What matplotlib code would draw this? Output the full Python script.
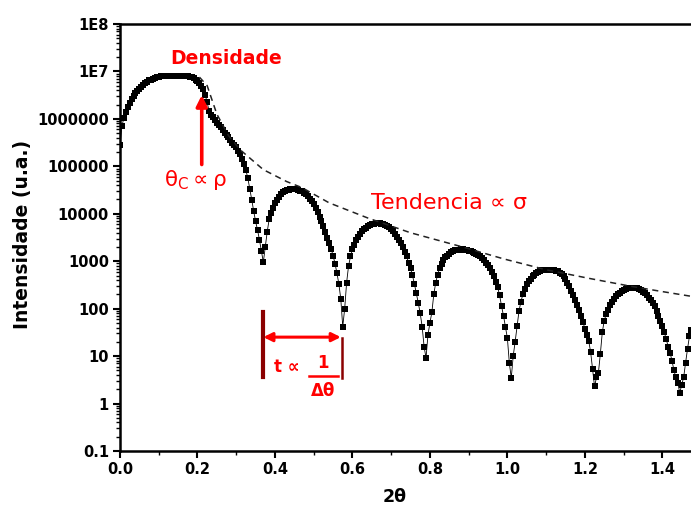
import numpy as np
import matplotlib.pyplot as plt
from matplotlib.ticker import FixedLocator, MultipleLocator, LogLocator, NullFormatter

plt.rcParams['font.family'] = ['DejaVu Sans']
plt.rcParams['mathtext.fontset'] = 'dejavusans'

two_theta = np.round(np.arange(0, 1.4751, 0.005), 3)
log_int = [
    5.45, 5.85, 6.02, 6.15, 6.25, 6.34, 6.42, 6.48, 6.54, 6.59, 6.64, 6.68, 6.72, 6.75, 6.78, 6.81, 6.83, 6.85, 6.87, 6.88,
    6.89, 6.90, 6.90, 6.905, 6.905, 6.905, 6.905, 6.905, 6.905, 6.905, 6.90, 6.90, 6.90, 6.90, 6.90, 6.90, 6.89, 6.88, 6.86, 6.83,
    6.80, 6.76, 6.70, 6.62, 6.50, 6.35, 6.16, 6.08, 6.03, 5.97, 5.92, 5.87, 5.82, 5.76, 5.71, 5.66, 5.61, 5.56, 5.50, 5.45,
    5.40, 5.33, 5.25, 5.16, 5.05, 4.92, 4.75, 4.53, 4.30, 4.06, 3.84, 3.66, 3.45, 3.22, 2.98, 3.30, 3.62, 3.88, 4.02, 4.13,
    4.22, 4.30, 4.36, 4.41, 4.45, 4.48, 4.50, 4.51, 4.52, 4.525, 4.525, 4.52, 4.51, 4.49, 4.47, 4.44, 4.41, 4.37, 4.32, 4.26,
    4.20, 4.12, 4.04, 3.94, 3.84, 3.74, 3.62, 3.50, 3.38, 3.26, 3.12, 2.95, 2.75, 2.52, 2.20, 1.62, 2.00, 2.55, 2.90, 3.10,
    3.25, 3.34, 3.44, 3.52, 3.58, 3.63, 3.67, 3.71, 3.74, 3.77, 3.785, 3.795, 3.80, 3.80, 3.80, 3.795, 3.785, 3.77, 3.75, 3.72,
    3.68, 3.63, 3.58, 3.52, 3.45, 3.38, 3.30, 3.20, 3.10, 2.97, 2.85, 2.70, 2.52, 2.32, 2.12, 1.90, 1.62, 1.20, 0.96, 1.45,
    1.70, 1.92, 2.30, 2.55, 2.72, 2.85, 2.95, 3.02, 3.08, 3.12, 3.16, 3.19, 3.21, 3.23, 3.24, 3.245, 3.25, 3.25, 3.245, 3.24,
    3.225, 3.21, 3.19, 3.17, 3.15, 3.13, 3.10, 3.06, 3.02, 2.97, 2.92, 2.86, 2.78, 2.68, 2.57, 2.45, 2.28, 2.05, 1.85, 1.62,
    1.38, 0.86, 0.54, 1.00, 1.30, 1.63, 1.95, 2.15, 2.30, 2.42, 2.51, 2.58, 2.63, 2.68, 2.72, 2.75, 2.78, 2.795, 2.81, 2.815,
    2.82, 2.82, 2.82, 2.815, 2.81, 2.80, 2.79, 2.76, 2.73, 2.68, 2.62, 2.55, 2.47, 2.38, 2.28, 2.18, 2.08, 1.97, 1.85, 1.72,
    1.58, 1.45, 1.32, 1.08, 0.72, 0.36, 0.55, 0.65, 1.05, 1.50, 1.75, 1.88, 1.98, 2.07, 2.14, 2.20, 2.26, 2.30, 2.34, 2.37,
    2.39, 2.41, 2.43, 2.44, 2.44, 2.44, 2.44, 2.43, 2.41, 2.39, 2.35, 2.32, 2.28, 2.23, 2.18, 2.11, 2.05, 1.95, 1.85, 1.75,
    1.63, 1.50, 1.36, 1.20, 1.07, 0.90, 0.70, 0.55, 0.44, 0.22, 0.40, 0.55, 0.86, 1.15, 1.42, 1.55,
]
intensity = 10 ** np.array(log_int)

# dashed trend (envelope) line
trend_x = [0.205, 0.225, 0.25, 0.28, 0.31, 0.37, 0.43, 0.47, 0.54, 0.64, 0.75, 0.88, 0.99, 1.10, 1.21, 1.32, 1.40, 1.475]
trend_log = [6.88, 6.70, 6.10, 5.65, 5.35, 4.93, 4.68, 4.55, 4.23, 3.91, 3.60, 3.31, 3.05, 2.82, 2.64, 2.47, 2.36, 2.26]

y_ticks = [0.1, 1, 10, 100, 1e3, 1e4, 1e5, 1e6, 1e7, 1e8]
y_labels = ['0.1', '1', '10', '100', '1000', '10000', '100000', '1000000', '1E7', '1E8']
x_ticks = [0.0, 0.2, 0.4, 0.6, 0.8, 1.0, 1.2, 1.4]

red = '#ff0000'
dark_red = '#8b0000'

fig = plt.figure(figsize=(6.91, 5.09), dpi=100)
ax = fig.add_axes([120/691, 1 - 451/509, 571/691, 427/509])

ax.plot(two_theta, intensity, 's-', color='black', ms=4.5, mew=0, lw=0.6)
ax.plot(trend_x, 10 ** np.array(trend_log), color='#222222', lw=1.1, ls=(0, (4, 3)))

ax.set_yscale('log')
ax.set_ylim(0.1, 1e8)
ax.set_xlim(0, 1.474)
ax.yaxis.set_major_locator(FixedLocator(y_ticks))
ax.set_yticklabels(y_labels)
ax.yaxis.set_minor_locator(LogLocator(base=10, subs=np.arange(2, 10)))
ax.yaxis.set_minor_formatter(NullFormatter())
ax.xaxis.set_major_locator(FixedLocator(x_ticks))
ax.set_xticklabels([f'{v:.1f}' for v in x_ticks])
ax.xaxis.set_minor_locator(MultipleLocator(0.1))

for s in ['left', 'bottom', 'top']:
    ax.spines[s].set_linewidth(1.8)
ax.spines['right'].set_visible(False)
ax.tick_params(which='major', direction='out', length=5, width=1.5, labelsize=10.5, pad=3)
ax.tick_params(which='minor', direction='out', length=3, width=1)
for lab in ax.get_xticklabels() + ax.get_yticklabels():
    lab.set_fontweight('bold')

ax.set_ylabel('Intensidade (u.a.)', fontsize=13.5, fontweight='bold')
ax.yaxis.set_label_coords(-88/571, (451 - 234) / 427)
ax.set_xlabel('2θ', fontsize=12.5, fontweight='bold')
ax.xaxis.set_label_coords((395 - 120) / 571, -37 / 427)

# annotations
ax.text(0.274, 1.9e7, 'Densidade', color=red, fontsize=13.5, fontweight='bold', ha='center', va='center')
ax.annotate('', xy=(0.211, 10 ** 6.56), xytext=(0.211, 10 ** 4.98),
            arrowprops=dict(arrowstyle='-|>', color=red, lw=2.6, mutation_scale=16))
ax.text(0.194, 10 ** 4.72, r'$\mathregular{\theta_C \propto \rho}$', color=red, fontsize=15.5,
        ha='center', va='center')
ax.text(0.849, 10 ** 4.23, 'Tendencia ∝ σ', color=red, fontsize=16, ha='center', va='center')

ax.plot([0.368, 0.368], [10 ** 1.94, 10 ** 0.57], color=dark_red, lw=3)
ax.plot([0.572, 0.572], [10 ** 1.38, 10 ** 0.53], color=dark_red, lw=1.8)
ax.annotate('', xy=(0.570, 10 ** 1.40), xytext=(0.370, 10 ** 1.40),
            arrowprops=dict(arrowstyle='<|-|>', color=red, lw=2.2, mutation_scale=13, shrinkA=0, shrinkB=0))
ax.text(0.431, 10 ** 0.76, 't ∝', color=red, fontsize=12, fontweight='bold', ha='center', va='center')
ax.text(0.524, 10 ** 0.86, '1', color=red, fontsize=12, fontweight='bold', ha='center', va='center')
ax.plot([0.488, 0.563], [10 ** 0.59, 10 ** 0.59], color=red, lw=1.8)
ax.text(0.524, 10 ** 0.27, 'Δθ', color=red, fontsize=12, fontweight='bold', ha='center', va='center')

fig.savefig('out.png', dpi=100)
